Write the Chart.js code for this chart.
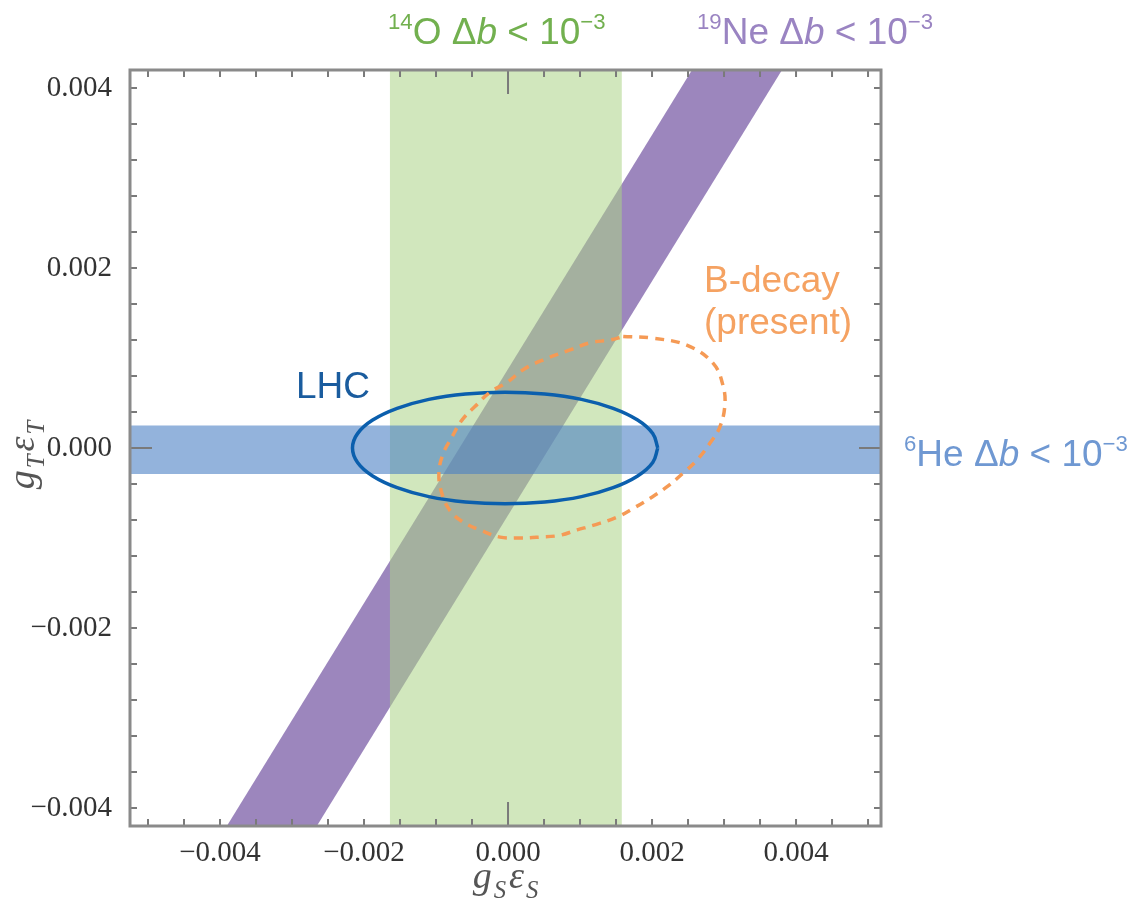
<!DOCTYPE html>
<html><head><meta charset="utf-8">
<script src="https://cdn.jsdelivr.net/npm/chart.js@4.4.1/dist/chart.umd.min.js"></script>
<style>html,body{margin:0;padding:0;background:#fff}#wrap{width:1138px;height:907px;position:relative}</style>
</head><body><div id="wrap"><canvas id="c"></canvas></div>
<script>
// ---- data ----
const xTicks = [-0.004, -0.002, 0, 0.002, 0.004];
const xTickLabels = ['\u22120.004', '\u22120.002', '0.000', '0.002', '0.004'];
const yTicks = [-0.004, -0.002, 0, 0.002, 0.004];
const yTickLabels = ['\u22120.004', '\u22120.002', '0.000', '0.002', '0.004'];

// 14O band (vertical)
const o14_gS = [-0.00164, -0.00164, 0.00158, 0.00158, -0.00164];
const o14_gT = [-0.005, 0.005, 0.005, -0.005, -0.005];
// 19Ne band (diagonal)
const ne19_gS = [-0.00452, 0.00317, 0.00442, -0.00327, -0.00452];
const ne19_gT = [-0.005, 0.005, 0.005, -0.005, -0.005];
// 6He band (horizontal)
const he6_gS = [-0.006, 0.006, 0.006, -0.006, -0.006];
const he6_gT = [0.00025, 0.00025, -0.00029, -0.00029, 0.00025];
// LHC ellipse
const lhc_gS = [0.00208, 0.00201, 0.00180, 0.00146, 0.00102, 0.00051, -0.00004, -0.00059, -0.00110, -0.00154, -0.00188, -0.00209, -0.00216, -0.00209, -0.00188, -0.00154, -0.00110, -0.00059, -0.00004, 0.00051, 0.00102, 0.00146, 0.00180, 0.00201, 0.00208];
const lhc_gT = [0.00000, 0.00016, 0.00031, 0.00044, 0.00054, 0.00060, 0.00062, 0.00060, 0.00054, 0.00044, 0.00031, 0.00016, 0.00000, -0.00016, -0.00031, -0.00044, -0.00054, -0.00060, -0.00062, -0.00060, -0.00054, -0.00044, -0.00031, -0.00016, 0.00000];
// B-decay (present) contour
const bd_gS = [0.00160, 0.00201, 0.00249, 0.00285, 0.00299, 0.00301, 0.00294, 0.00281, 0.00263, 0.00243, 0.00221, 0.00197, 0.00174, 0.00151, 0.00118, 0.00096, 0.00072, 0.00044, 0.00017, -0.00011, -0.00039, -0.00063, -0.00081, -0.00092, -0.00096, -0.00090, -0.00078, -0.00064, -0.00046, -0.00025, -0.00001, 0.00021, 0.00049, 0.00086, 0.00114, 0.00142, 0.00160];
const bd_gT = [0.00124, 0.00122, 0.00114, 0.00094, 0.00068, 0.00046, 0.00023, 0.00006, -0.00013, -0.00028, -0.00043, -0.00056, -0.00067, -0.00077, -0.00086, -0.00091, -0.00097, -0.00099, -0.00100, -0.00099, -0.00091, -0.00082, -0.00069, -0.00050, -0.00028, -0.00006, 0.00012, 0.00031, 0.00046, 0.00062, 0.00073, 0.00087, 0.00098, 0.00109, 0.00117, 0.00120, 0.00124];

const xRange = [-0.00525, 0.00518];
const yRange = [-0.0042, 0.0042];

const zip = (xs, ys) => xs.map((x, i) => ({x: x, y: ys[i]}));

function rich(ctx, x, y, parts, color, size, family) {
  ctx.save();
  ctx.fillStyle = color;
  ctx.textBaseline = 'alphabetic';
  ctx.textAlign = 'left';
  let cx = x;
  for (const p of parts) {
    const s = p.sup ? size * 0.6 : (p.sub ? size * 0.65 : size);
    ctx.font = (p.it ? 'italic ' : '') + s + 'px ' + (p.fam || family);
    const dy = p.sup ? -size * 0.4 : (p.sub ? size * 0.25 : 0);
    ctx.fillText(p.t, cx, y + dy);
    cx += ctx.measureText(p.t).width + (p.gap || 0);
  }
  ctx.restore();
  return cx - x;
}
function richWidth(ctx, parts, size, family) {
  ctx.save();
  let w = 0;
  for (const p of parts) {
    const s = p.sup ? size * 0.6 : (p.sub ? size * 0.65 : size);
    ctx.font = (p.it ? 'italic ' : '') + s + 'px ' + (p.fam || family);
    w += ctx.measureText(p.t).width + (p.gap || 0);
  }
  ctx.restore();
  return w;
}

const framePlugin = {
  id: 'frame',
  afterDatasetsDraw(chart) {
    const {ctx, chartArea: a} = chart;
    const xs = chart.scales.x, ys = chart.scales.y;
    ctx.save();
    // ticks
    ctx.strokeStyle = '#7a7a7a';
    ctx.lineWidth = 2;
    for (let i = -10; i <= 10; i++) {
      const v = i * 0.0005;
      const px = xs.getPixelForValue(v);
      if (px < a.left + 2 || px > a.right - 2) continue;
      const len = i === 0 ? 24 : 7;
      ctx.beginPath();
      ctx.moveTo(px, a.bottom); ctx.lineTo(px, a.bottom - len);
      ctx.moveTo(px, a.top); ctx.lineTo(px, a.top + len);
      ctx.stroke();
    }
    for (let i = -10; i <= 10; i++) {
      const v = i * 0.0004;
      const py = ys.getPixelForValue(v);
      if (py < a.top + 2 || py > a.bottom - 2) continue;
      const len = i === 0 ? 22 : 7;
      ctx.beginPath();
      ctx.moveTo(a.left, py); ctx.lineTo(a.left + len, py);
      ctx.moveTo(a.right, py); ctx.lineTo(a.right - len, py);
      ctx.stroke();
    }
    // frame
    ctx.strokeStyle = '#8a8a8a';
    ctx.lineWidth = 3;
    ctx.strokeRect(a.left, a.top, a.right - a.left, a.bottom - a.top);
    ctx.restore();

    const sans = '"Liberation Sans", Arial, sans-serif';
    const fs = 37;
    rich(ctx, 388, 44, [{t: '14', sup: true}, {t: 'O \u0394'}, {t: 'b', it: true}, {t: ' < 10'}, {t: '\u22123', sup: true}], '#72b04f', fs, sans);
    rich(ctx, 697, 44, [{t: '19', sup: true}, {t: 'Ne \u0394'}, {t: 'b', it: true}, {t: ' < 10'}, {t: '\u22123', sup: true}], '#9a84c2', fs, sans);
    rich(ctx, 904, 466, [{t: '6', sup: true}, {t: 'He \u0394'}, {t: 'b', it: true}, {t: ' < 10'}, {t: '\u22123', sup: true}], '#6f98d2', fs, sans);
    rich(ctx, 296, 398, [{t: 'LHC'}], '#1a5c9e', fs, sans);
    rich(ctx, 704, 292, [{t: 'B-decay'}], '#f5a262', fs, sans);
    rich(ctx, 704, 334, [{t: '(present)'}], '#f5a262', fs, sans);

    // axis titles
    const serif = '"Liberation Serif", "Times New Roman", serif';
    const tfs = 38;
    const xt = [{t: 'g', it: true, gap: 2}, {t: 'S', it: true, sub: true, gap: 3}, {t: '\u03b5', it: true, gap: 2}, {t: 'S', it: true, sub: true}];
    const wx = richWidth(ctx, xt, tfs, serif);
    const cxm = (a.left + a.right) / 2;
    rich(ctx, cxm - wx / 2, 888, xt, '#555555', tfs, serif);
    const yt = [{t: 'g', it: true, gap: 2}, {t: 'T', it: true, sub: true, gap: 3}, {t: '\u03b5', it: true, gap: 2}, {t: 'T', it: true, sub: true}];
    const wy = richWidth(ctx, yt, tfs, serif);
    ctx.save();
    ctx.translate(34, 455);
    ctx.rotate(-Math.PI / 2);
    rich(ctx, -wy / 2, 0, yt, '#555555', tfs, serif);
    ctx.restore();
  }
};

const tickFont = {family: '"Liberation Serif", "Times New Roman", serif', size: 29};

new Chart(document.getElementById('c'), {
  type: 'scatter',
  data: {
    datasets: [
      {label: '19Ne', data: zip(ne19_gS, ne19_gT), showLine: true, fill: 'shape', backgroundColor: 'rgb(156,134,189)', borderWidth: 0, pointRadius: 0, tension: 0, order: 6},
      {label: '14O', data: zip(o14_gS, o14_gT), showLine: true, fill: 'shape', backgroundColor: 'rgba(171,211,135,0.55)', borderWidth: 0, pointRadius: 0, tension: 0, order: 5},
      {label: '6He', data: zip(he6_gS, he6_gT), showLine: true, fill: 'shape', backgroundColor: 'rgba(75,128,197,0.6)', borderWidth: 0, pointRadius: 0, tension: 0, order: 4},
      {label: 'LHC', data: zip(lhc_gS, lhc_gT), showLine: true, fill: false, borderColor: '#0b5fad', borderWidth: 3.5, pointRadius: 0, tension: 0.4, order: 3},
      {label: 'B-decay', data: zip(bd_gS, bd_gT), showLine: true, fill: false, borderColor: '#f59a55', borderWidth: 3.5, borderDash: [9, 7], pointRadius: 0, tension: 0.4, order: 2}
    ]
  },
  options: {
    responsive: true,
    maintainAspectRatio: false,
    animation: false,
    layout: {padding: {left: 0, right: 257, top: 70, bottom: 0}},
    plugins: {legend: {display: false}, tooltip: {enabled: false}, title: {display: false}},
    scales: {
      x: {
        type: 'linear', min: xRange[0], max: xRange[1],
        grid: {display: false}, border: {display: false},
        afterBuildTicks: s => { s.ticks = xTicks.map(v => ({value: v})); },
        afterFit: s => { s.height = 81; },
        ticks: {autoSkip: false, maxRotation: 0, padding: 2, color: '#333', font: tickFont,
          callback: (v, i) => xTickLabels[i]}
      },
      y: {
        type: 'linear', min: yRange[0], max: yRange[1],
        grid: {display: false}, border: {display: false},
        afterBuildTicks: s => { s.ticks = yTicks.map(v => ({value: v})); },
        afterFit: s => { s.width = 130; },
        ticks: {autoSkip: false, padding: 10, color: '#333', font: tickFont,
          callback: (v, i) => yTickLabels[i]}
      }
    }
  },
  plugins: [framePlugin]
});
</script></body></html>
